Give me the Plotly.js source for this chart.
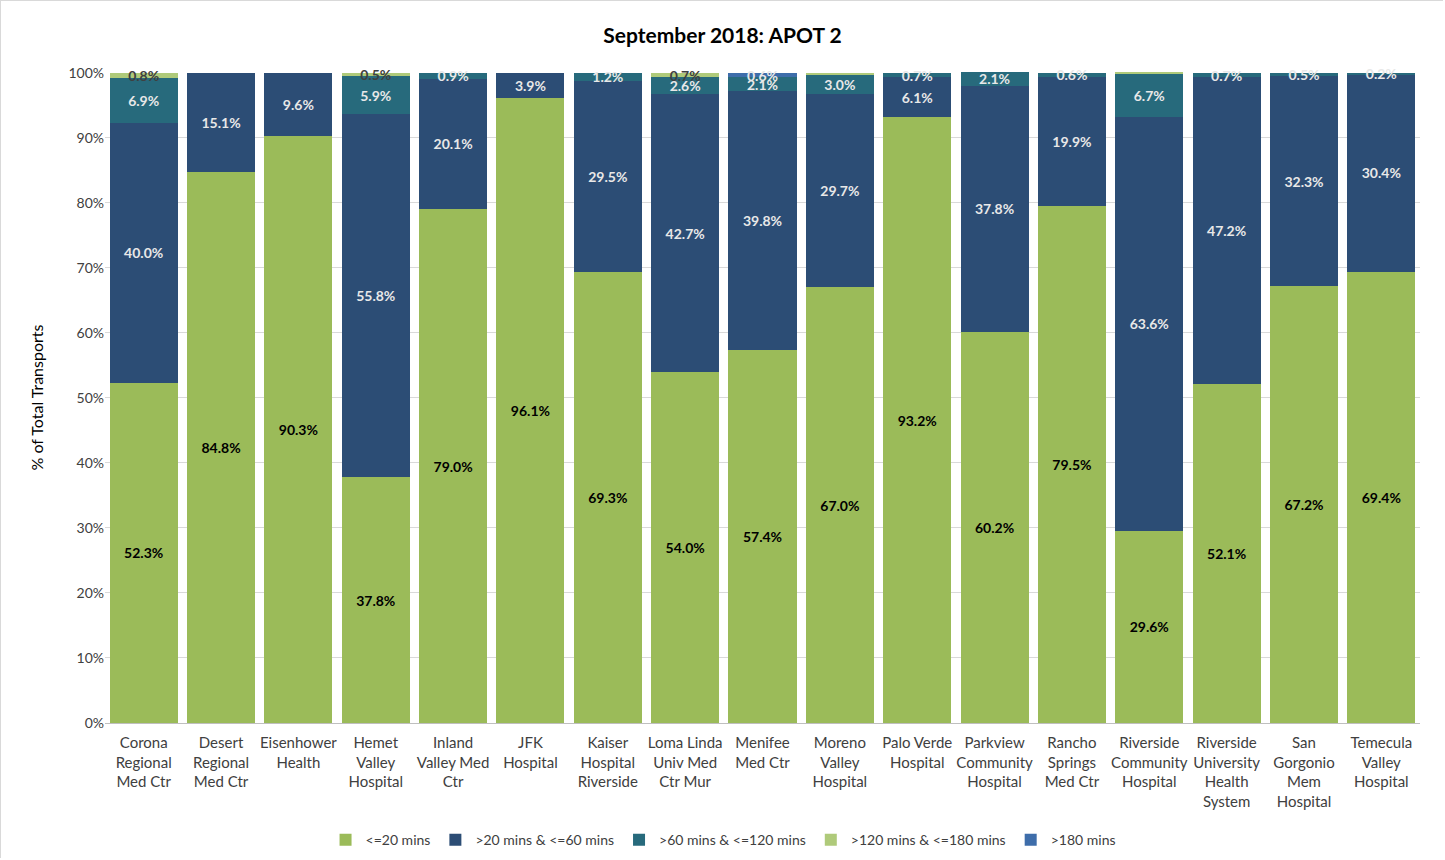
<!DOCTYPE html>
<html>
<head>
<meta charset="utf-8">
<script src="https://cdn.plot.ly/plotly-3.0.1.min.js"></script>
<style>
html,body{margin:0;padding:0;background:#fff;}
#chart{width:1443px;height:858px;border:1px solid #D9D9D9;box-sizing:border-box;}
</style>
</head>
<body>
<div id="chart"></div>
<script>
const categories = [
  "Corona<br>Regional<br>Med Ctr",
  "Desert<br>Regional<br>Med Ctr",
  "Eisenhower<br>Health",
  "Hemet<br>Valley<br>Hospital",
  "Inland<br>Valley Med<br>Ctr",
  "JFK<br>Hospital",
  "Kaiser<br>Hospital<br>Riverside",
  "Loma Linda<br>Univ Med<br>Ctr Mur",
  "Menifee<br>Med Ctr",
  "Moreno<br>Valley<br>Hospital",
  "Palo Verde<br>Hospital",
  "Parkview<br>Community<br>Hospital",
  "Rancho<br>Springs<br>Med Ctr",
  "Riverside<br>Community<br>Hospital",
  "Riverside<br>University<br>Health<br>System",
  "San<br>Gorgonio<br>Mem<br>Hospital",
  "Temecula<br>Valley<br>Hospital"
];
const le20      = [52.3, 84.8, 90.3, 37.8, 79.0, 96.1, 69.3, 54.0, 57.4, 67.0, 93.2, 60.2, 79.5, 29.6, 52.1, 67.2, 69.4];
const gt20le60  = [40.0, 15.1,  9.6, 55.8, 20.1,  3.9, 29.5, 42.7, 39.8, 29.7,  6.1, 37.8, 19.9, 63.6, 47.2, 32.3, 30.4];
const gt60le120 = [ 6.9,  0.0,  0.0,  5.9,  0.9,  0.0,  1.2,  2.6,  2.1,  3.0,  0.7,  2.1,  0.6,  6.7,  0.7,  0.5,  0.2];
const gt120le180= [ 0.8,  0.0,  0.0,  0.5,  0.0,  0.0,  0.0,  0.7,  0.0,  0.3,  0.0,  0.0,  0.0,  0.1,  0.0,  0.0,  0.0];
const gt180     = [ 0.0,  0.0,  0.0,  0.0,  0.0,  0.0,  0.0,  0.0,  0.6,  0.0,  0.0,  0.0,  0.0,  0.0,  0.0,  0.0,  0.0];
const seriesNames = ["<=20 mins", ">20 mins & <=60 mins", ">60 mins & <=120 mins", ">120 mins & <=180 mins", ">180 mins"];
const yTickVals = [0,10,20,30,40,50,60,70,80,90,100];
const yTickText = ["0%","10%","20%","30%","40%","50%","60%","70%","80%","90%","100%"];

const seriesData = [le20, gt20le60, gt60le120, gt120le180, gt180];
const colors = ["#9BBB59", "#2C4D75", "#276A7C", "#AFCA7A", "#3E6DAA"];
const labelColors = ["#000000", "#E8E8E8", "#E8E8E8", "#404040", "#E8E8E8"];

const traces = seriesData.map((vals, i) => ({
  type: "bar",
  name: seriesNames[i],
  x: categories,
  y: vals,
  marker: {color: colors[i]},
  text: vals.map(v => (v > 0 && i < 3) || (v >= 0.5 && i >= 3) ? v.toFixed(1) + "%" : ""),
  textposition: "inside",
  insidetextanchor: "middle",
  textangle: 0,
  textfont: {family: "Lato, 'Open Sans', sans-serif", size: 14, color: labelColors[i], weight: "bold"},
  hoverinfo: "name+y",
  cliponaxis: false
}));

const layout = {
  width: 1443,
  height: 858,
  barmode: "stack",
  bargap: 0.12,
  paper_bgcolor: "#FFFFFF",
  plot_bgcolor: "#FFFFFF",
  margin: {l: 104, r: 24, t: 71, b: 136, autoexpand: false},
  font: {family: "Lato, 'Open Sans', sans-serif", color: "#404040", size: 14},
  title: {
    text: "<b>September 2018: APOT 2</b>",
    font: {family: "Lato, 'Open Sans', sans-serif", size: 21, color: "#000000"},
    x: 0.5, xanchor: "center", y: 0.96, yanchor: "middle"
  },
  uniformtext: {mode: "show", minsize: 14},
  xaxis: {
    type: "category",
    showline: true,
    linecolor: "#BFBFBF",
    linewidth: 1,
    ticks: "outside",
    ticklen: 6,
    tickcolor: "rgba(0,0,0,0)",
    tickfont: {size: 15, color: "#404040"},
    automargin: false
  },
  yaxis: {
    range: [0, 100.12],
    tickvals: yTickVals,
    ticktext: yTickText,
    showgrid: true,
    gridcolor: "#D9D9D9",
    zeroline: false,
    showline: false,
    tickfont: {size: 14, color: "#404040"},
    title: {text: "% of Total Transports", font: {size: 16, color: "#000000"}, standoff: 20},
    automargin: false
  },
  showlegend: true,
  legend: {
    orientation: "h",
    x: 0.47, xanchor: "center",
    y: -0.18, yanchor: "middle",
    traceorder: "normal",
    font: {size: 14, color: "#404040"},
    itemwidth: 30
  }
};

Plotly.newPlot("chart", traces, layout, {displayModeBar: false, staticPlot: false});
</script>
</body>
</html>
